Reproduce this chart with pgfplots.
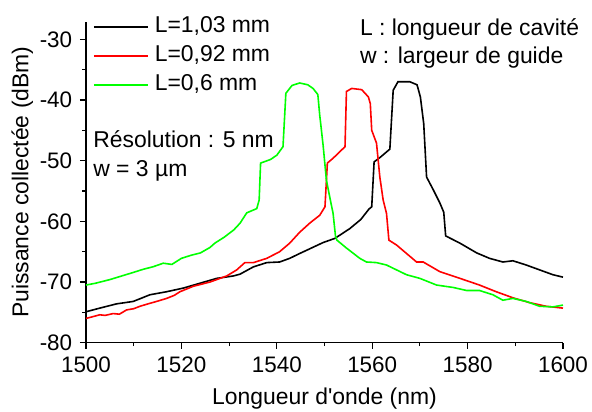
\documentclass[border=0pt]{standalone}
\usepackage{pgfplots}
\pgfplotsset{compat=1.18}
\usepackage{fontspec}
\setmainfont{Liberation Sans}
\definecolor{cgreen}{RGB}{0,255,0}
\definecolor{cred}{RGB}{255,0,0}
\begin{document}
\fontsize{23}{27}\selectfont
\begin{tikzpicture}
\path[use as bounding box] (-86bp,-69.3bp) rectangle (506bp,342.7bp);
\begin{axis}[
  scale only axis,
  width=477bp, height=321bp,
  xmin=1500, xmax=1600, ymin=-80, ymax=-27.1,
  axis lines=left,
  axis line style={-, line width=1.1bp},
  tick style={line width=1.1bp, black},
  tick align=outside,
  major tick length=6bp, minor tick length=3.5bp,
  xtick={1500,1520,1540,1560,1580,1600},
  xticklabels={1500,1520,1540,1560,1580,1600},
  ytick={-80,-70,-60,-50,-40,-30},
  yticklabels={-80,-70,-60,-50,-40,-30},
  minor x tick num=1, minor y tick num=1,
  tick label style={font=\fontsize{22.5}{26}\selectfont},
  label style={font=\fontsize{23}{27}\selectfont},
  xlabel={Longueur d\textquotesingle onde (nm)},
  ylabel={Puissance collectée (dBm)},
  ylabel style={at={(axis description cs:-0.1335,0.5)}, anchor=center, rotate=0},
  legend style={draw=none, fill=none, at={(0,1)}, anchor=north west,
    xshift=7bp, yshift=6bp, inner sep=0pt, row sep=7bp,
    font=\fontsize{23}{27}\selectfont,
    nodes={inner sep=0pt, text height=17bp, text depth=5bp},
    /tikz/every odd column/.append style={column sep=6bp}},
  legend cell align=left,
  legend image code/.code={\draw[#1] (0bp,0bp) -- (54bp,0bp);},
  clip=false,
]
\addplot[black, line width=1.6bp] coordinates {
(1500,-74.9) (1502.9,-74.3) (1506.4,-73.6) (1509.9,-73.2) (1511.5,-72.7) (1513.4,-72.1) (1516.9,-71.6) (1520.4,-71.0) (1523.9,-70.2) (1527.4,-69.4) (1530.9,-69.0) (1532.3,-68.7) (1535.1,-67.5) (1537.9,-66.8) (1540.6,-66.7) (1542.7,-66.1) (1544.8,-65.3) (1549.7,-63.5) (1552.2,-62.8) (1555.3,-61.2) (1557.6,-59.7) (1559.3,-58.0) (1559.9,-57.6) (1560.4,-50.2) (1561.6,-49.5) (1563.7,-48.1) (1564.4,-38.4) (1565.4,-37.0) (1567.9,-37.0) (1569.4,-37.5) (1570.1,-39.5) (1570.8,-43.9) (1571.4,-52.7) (1572.8,-54.8) (1574.2,-57.0) (1575.0,-58.5) (1575.4,-62.4) (1578.4,-63.6) (1581.9,-65.2) (1584.6,-66.1) (1587.4,-66.7) (1589.5,-66.5) (1592.3,-67.2) (1595.1,-68.0) (1597.9,-68.8) (1600,-69.2)
};
\addlegendentry{L=1,03 mm}
\addplot[cred, line width=1.6bp] coordinates {
(1500,-76.0) (1501,-75.8) (1502.9,-75.4) (1504,-75.5) (1505.7,-75.2) (1507,-75.3) (1508.5,-74.6) (1510,-74.4) (1511.3,-74.0) (1513,-73.6) (1514.8,-73.2) (1516.9,-72.7) (1518.5,-72.2) (1519.7,-71.6) (1522.5,-70.7) (1526,-70.0) (1529.5,-69.0) (1531.6,-68.0) (1533.3,-66.8) (1535.1,-66.8) (1537.9,-66.1) (1540.6,-65.0) (1542.7,-63.6) (1544.8,-61.8) (1546.9,-60.3) (1549,-59.0) (1550.1,-57.6) (1550.6,-50.4) (1551.8,-49.6) (1554.3,-47.7) (1554.6,-38.6) (1555.7,-38.1) (1557.8,-38.3) (1559.2,-39.5) (1559.6,-40.6) (1559.9,-45.0) (1560.9,-47.1) (1561.6,-52.7) (1562.3,-56.5) (1563,-58.7) (1563.5,-63.1) (1565.1,-63.9) (1567.2,-65.3) (1569.3,-66.7) (1570.7,-66.7) (1574.2,-68.3) (1578.4,-69.4) (1582.5,-70.5) (1586,-71.6) (1589.5,-72.6) (1593,-73.4) (1596.5,-74.0) (1600,-74.3)
};
\addlegendentry{L=0,92 mm}
\addplot[cgreen, line width=1.6bp] coordinates {
(1500,-70.5) (1502,-70.2) (1505,-69.6) (1507.5,-69.0) (1510,-68.4) (1512,-67.9) (1514,-67.5) (1516.2,-66.9) (1518,-67.1) (1520,-66.1) (1522,-65.6) (1524,-65.2) (1526,-64.3) (1527,-63.6) (1529,-62.6) (1531,-61.4) (1532.3,-60.3) (1533.7,-58.6) (1535.8,-57.9) (1536.3,-56.5) (1536.6,-50.4) (1538.7,-49.8) (1540,-49.1) (1541.3,-47.7) (1541.9,-38.9) (1543.2,-37.6) (1544.8,-37.2) (1546.5,-37.5) (1547.6,-38.1) (1548.6,-39.1) (1549,-42.5) (1549.7,-47.4) (1550.4,-53.2) (1551.1,-56.0) (1551.8,-58.7) (1552.3,-62.4) (1552.6,-63.1) (1554.6,-64.4) (1557.4,-66.1) (1558.8,-66.7) (1560.9,-66.8) (1563,-67.2) (1565.1,-68.0) (1567.2,-68.8) (1570,-69.4) (1573.5,-70.5) (1577,-70.9) (1579.8,-71.4) (1582.5,-71.4) (1585.3,-72.1) (1587.4,-73.0) (1589.5,-72.7) (1592.3,-73.2) (1595.1,-74.0) (1597.9,-74.1) (1600,-73.8)
};
\addlegendentry{L=0,6 mm}
\node[anchor=base west, inner sep=0pt, align=left] at (axis cs:1557.4,-29.3) {L : longueur de cavité};
\node[anchor=base west, inner sep=0pt] at (axis cs:1557.4,-33.95) {w : largeur de guide};
\node[anchor=base west, inner sep=0pt] at (axis cs:1501.5,-47.9) {Résolution : 5 nm};
\node[anchor=base west, inner sep=0pt] at (axis cs:1501.5,-52.6) {w = 3 µm};
\end{axis}
\end{tikzpicture}
\end{document}
